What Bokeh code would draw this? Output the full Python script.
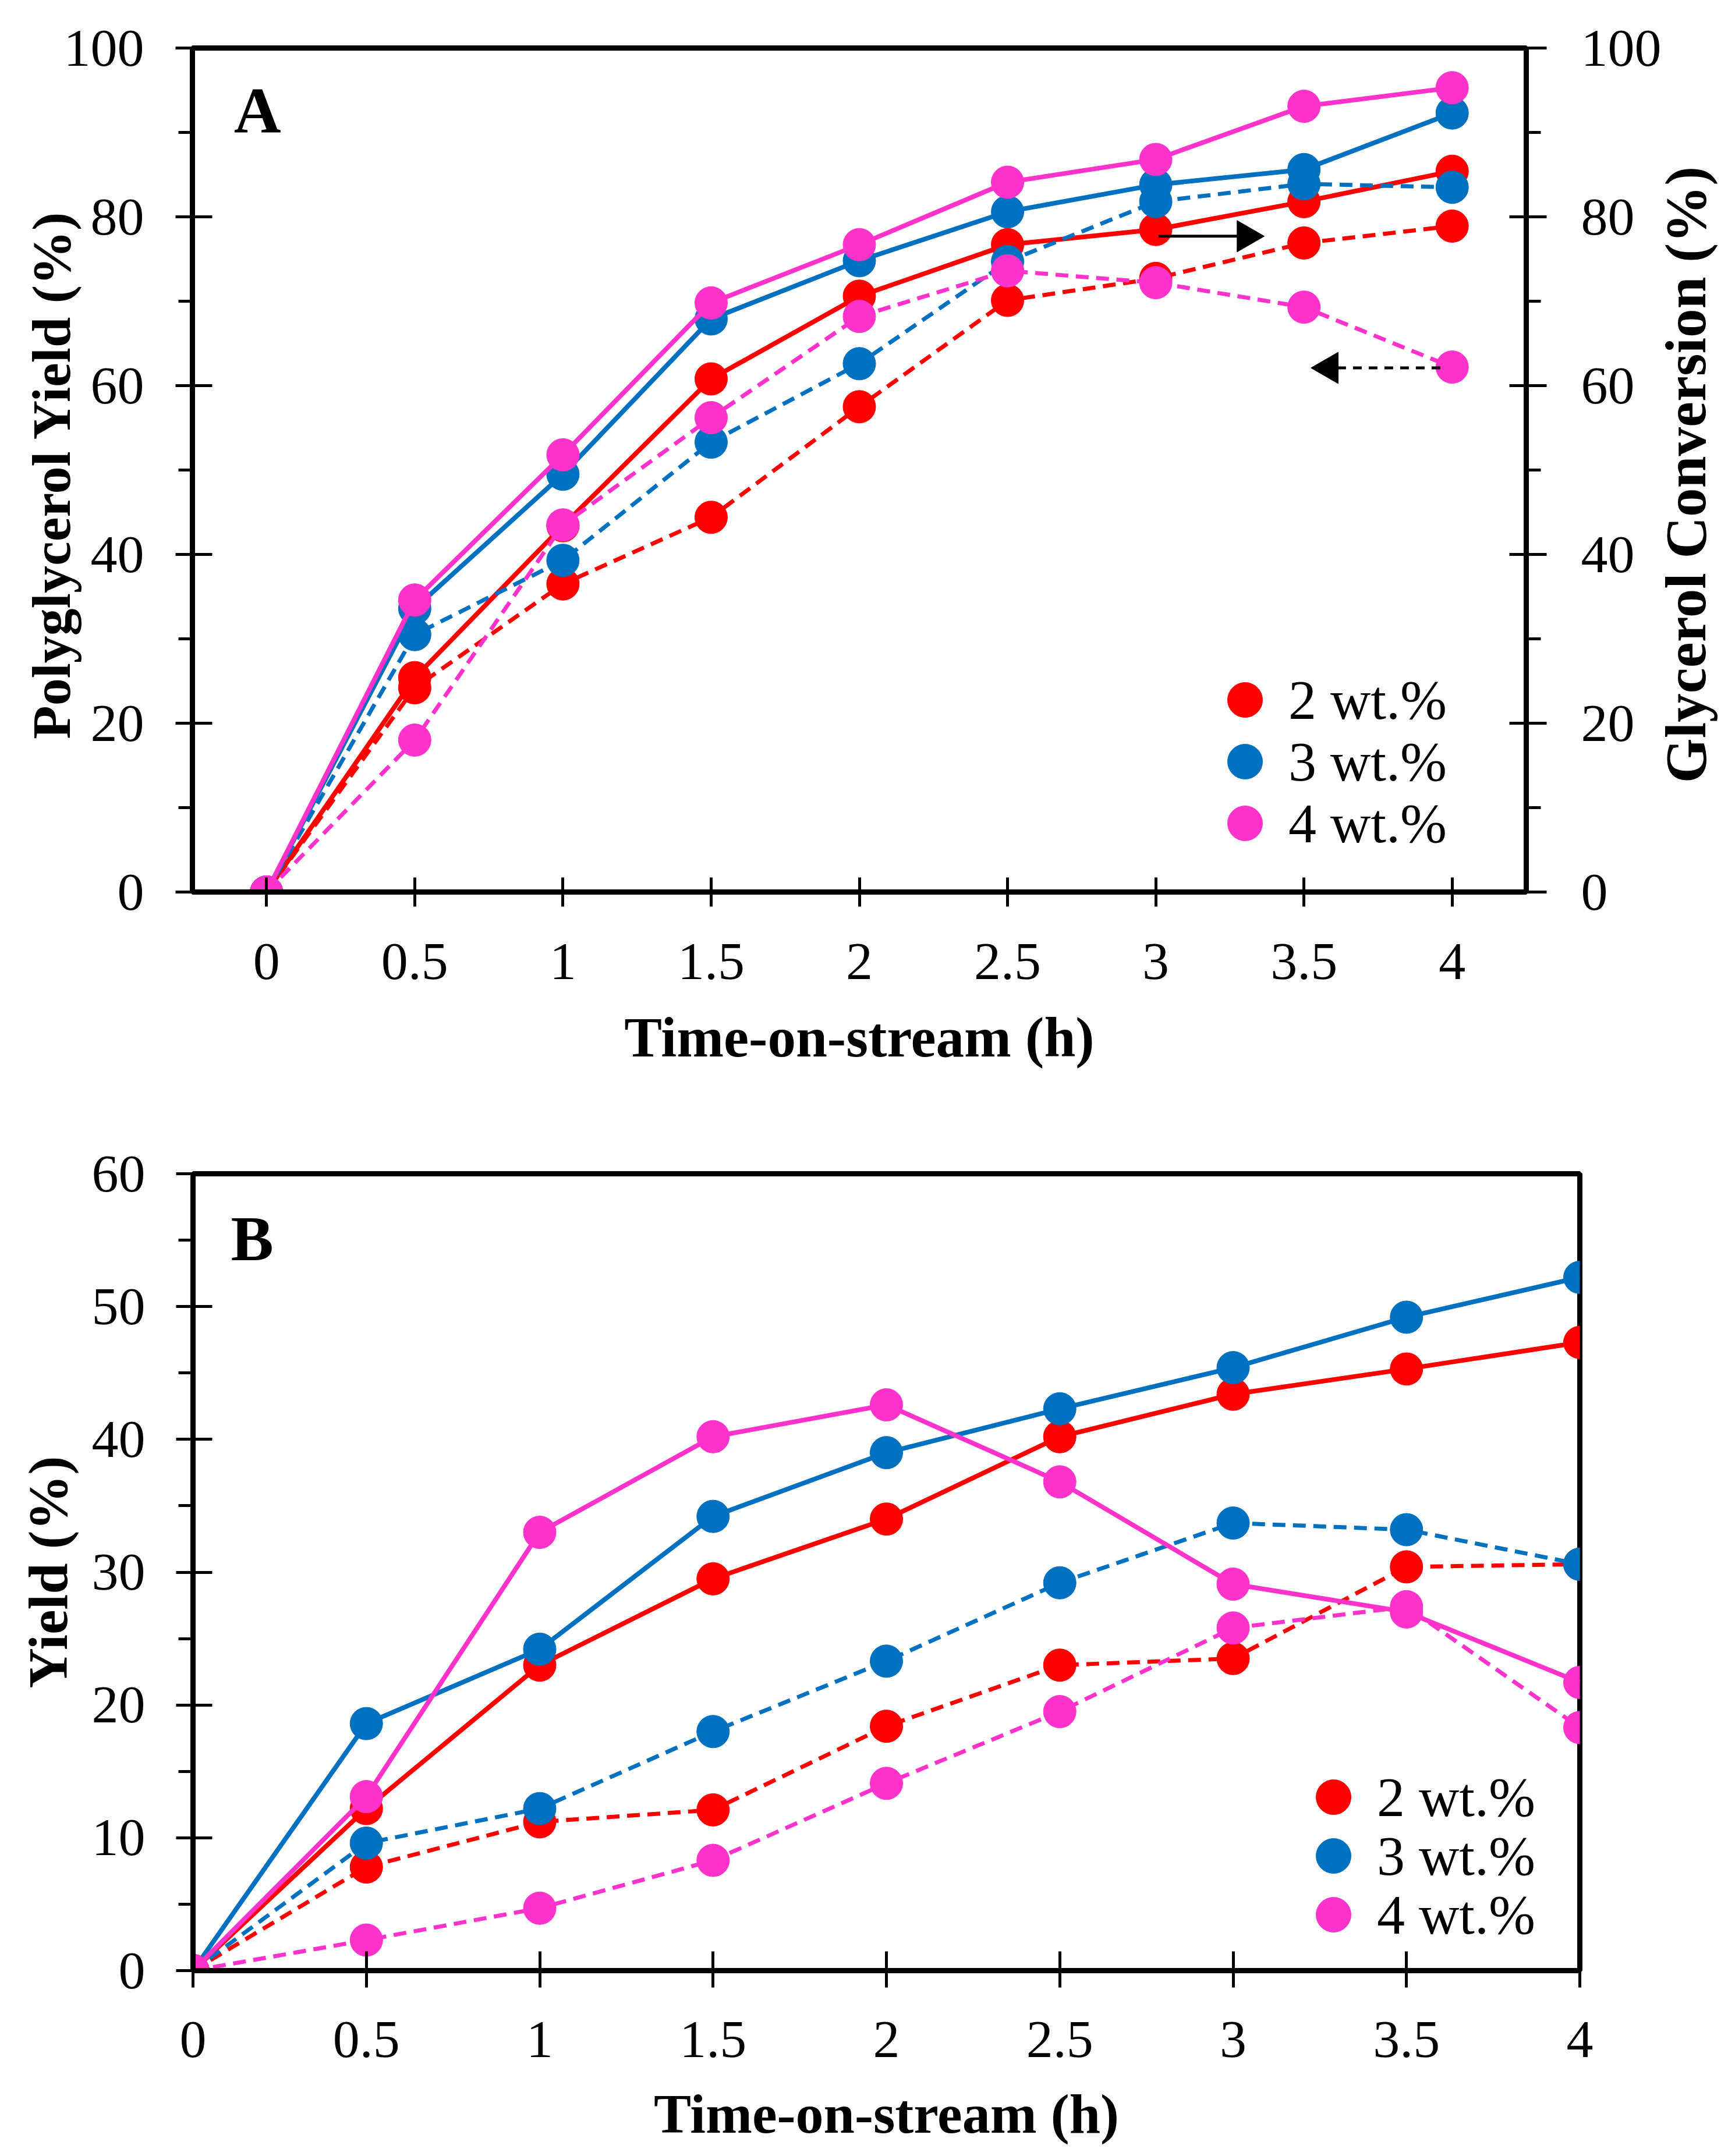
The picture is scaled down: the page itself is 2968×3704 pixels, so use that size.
import math
from bokeh.plotting import figure
from bokeh.models import (LinearAxis, Range1d, FixedTicker, Legend, LegendItem)
from bokeh.core.properties import value
from bokeh.embed import file_html
from bokeh.resources import INLINE

FONT = "Liberation Serif"
RED, BLUE, PINK = "#FF0000", "#0070C0", "#FF33CC"

# ---------------- data ----------------
time_h = [0, 0.5, 1, 1.5, 2, 2.5, 3, 3.5, 4]
time_labels = ["0", "0.5", "1", "1.5", "2", "2.5", "3", "3.5", "4"]
series_labels = ["2 wt.%", "3 wt.%", "4 wt.%"]
series_colors = [RED, BLUE, PINK]

# Panel A - glycerol conversion (solid, right axis)
conv_2 = [0, 25.4, 43.4, 60.8, 70.6, 76.7, 78.5, 81.8, 85.4]
conv_3 = [0, 33.6, 49.5, 67.9, 74.8, 80.6, 83.8, 85.6, 92.3]
conv_4 = [0, 34.6, 51.8, 69.8, 76.7, 84.1, 86.8, 93.1, 95.3]
# Panel A - polyglycerol yield (dashed, left axis)
pgy_2 = [0, 24.2, 36.5, 44.4, 57.5, 70.1, 72.7, 76.9, 78.9]
pgy_3 = [0, 30.5, 39.3, 53.3, 62.6, 74.7, 81.8, 83.9, 83.5]
pgy_4 = [0, 18.0, 43.5, 56.2, 68.2, 73.6, 72.2, 69.3, 62.2]

# Panel B - yields (solid and dashed series)
b_solid_2 = [0, 12.2, 23.0, 29.5, 34.0, 40.2, 43.4, 45.3, 47.3]
b_solid_3 = [0, 18.6, 24.2, 34.2, 39.0, 42.3, 45.4, 49.2, 52.2]
b_solid_4 = [0, 13.1, 33.0, 40.2, 42.6, 36.8, 29.1, 27.0, 21.7]
b_dash_2 = [0, 7.8, 11.2, 12.1, 18.4, 23.0, 23.5, 30.4, 30.6]
b_dash_3 = [0, 9.6, 12.2, 18.0, 23.3, 29.2, 33.7, 33.2, 30.6]
b_dash_4 = [0, 2.3, 4.7, 8.3, 14.1, 19.5, 25.8, 27.4, 18.3]

# arrows in panel A (point to the axis each curve family belongs to)
arrow_y = [77.7, 62.1]
arrow_tail_x = [3.01, 3.96]
arrow_tip_x = [3.35, 3.54]

ya_ticks = [0, 20, 40, 60, 80, 100]
ya_minor = [10, 30, 50, 70, 90]
yb_ticks = [0, 10, 20, 30, 40, 50, 60]
yb_minor = [5, 15, 25, 35, 45, 55]

LW_SOLID = 8
LW_DASH = 7
DASH = "22 13"
MSIZE = 56
x_overrides = dict(zip(time_h, time_labels))


def style_common(p):
    p.background_fill_color = "white"
    p.border_fill_color = "white"
    p.outline_line_color = "black"
    p.outline_line_width = 9
    p.xgrid.visible = False
    p.ygrid.visible = False


def style_axis(ax, tick_in, tick_out, minor_in, minor_out, standoff):
    ax.axis_line_color = "black"
    ax.axis_line_width = 9
    ax.major_tick_line_color = "black"
    ax.major_tick_line_width = 5
    ax.minor_tick_line_color = "black"
    ax.minor_tick_line_width = 5
    ax.major_tick_in = tick_in
    ax.major_tick_out = tick_out
    ax.minor_tick_in = minor_in
    ax.minor_tick_out = minor_out
    ax.major_label_text_font = FONT
    ax.major_label_text_font_size = "92px"
    ax.major_label_text_color = "black"
    ax.major_label_standoff = standoff
    ax.axis_label_text_font = FONT
    ax.axis_label_text_font_style = "bold"
    ax.axis_label_text_color = "black"


def add_legend(p, renderers, x0, ys):
    for lab, r, y in zip(series_labels, renderers, ys):
        leg = Legend(items=[LegendItem(label=lab, renderers=[r])],
                     location=(x0, y), glyph_width=150, glyph_height=150, spacing=0,
                     label_standoff=0, padding=0, margin=0, border_line_color=None,
                     background_fill_alpha=0, label_text_font=FONT,
                     label_text_font_size="96px", label_text_color="black")
        p.add_layout(leg)


def title_overlay(text, size, left_px, top_px, width, height, mb_left, mb_top, mb_bottom):
    """Transparent figure whose only visible element is a left-axis title."""
    q = figure(width=width, height=height, x_range=Range1d(0, 1), y_range=Range1d(0, 1),
               x_axis_location=None, y_axis_location="left",
               output_backend="svg", toolbar_location=None,
               min_border_left=mb_left, min_border_right=5,
               min_border_top=mb_top, min_border_bottom=mb_bottom)
    q.background_fill_color = None
    q.border_fill_color = None
    q.outline_line_color = None
    q.xgrid.visible = False
    q.ygrid.visible = False
    ax = q.yaxis[0]
    ax.ticker = FixedTicker(ticks=[0.5], minor_ticks=[])
    ax.major_label_overrides = {0.5: ""}
    ax.axis_line_color = None
    ax.major_tick_line_color = None
    ax.minor_tick_line_color = None
    ax.major_tick_in = 0
    ax.major_tick_out = 0
    ax.minor_tick_in = 0
    ax.minor_tick_out = 0
    ax.major_label_standoff = 0
    ax.major_label_text_font = FONT
    ax.major_label_text_font_size = "10px"
    ax.axis_label = text
    ax.axis_label_text_font = FONT
    ax.axis_label_text_font_style = "bold"
    ax.axis_label_text_font_size = size
    ax.axis_label_text_color = "black"
    ax.axis_label_standoff = 0
    q.styles = {"position": "absolute", "left": f"{left_px}px", "top": f"{top_px}px"}
    return q


# ================= Panel A =================
pA = figure(width=2950, height=1892, x_range=Range1d(-0.25, 4.25), y_range=Range1d(0, 100),
            output_backend="svg", toolbar_location=None,
            min_border_left=330, min_border_right=329, min_border_top=82, min_border_bottom=360)
style_common(pA)
pA.extra_y_ranges = {"conv": Range1d(0, 100)}
right_ax = LinearAxis(y_range_name="conv")
pA.add_layout(right_ax, "right")

xa = pA.xaxis[0]
style_axis(xa, 25, 25, 0, 0, 64)
xa.ticker = FixedTicker(ticks=time_h, minor_ticks=[])
xa.major_label_overrides = x_overrides
xa.axis_label = "Time-on-stream (h)"
xa.axis_label_text_font_size = "97px"
xa.axis_label_standoff = 44

ya = pA.yaxis[0]
style_axis(ya, 34, 29, 0, 24, 54)
ya.ticker = FixedTicker(ticks=ya_ticks, minor_ticks=ya_minor)

style_axis(right_ax, 29, 35, 0, 25, 59)
right_ax.ticker = FixedTicker(ticks=ya_ticks, minor_ticks=ya_minor)

legend_renderers_A = []
for pgy, conv, col in zip([pgy_2, pgy_3, pgy_4], [conv_2, conv_3, conv_4], series_colors):
    pA.line(time_h, pgy, line_color=col, line_width=LW_DASH, line_dash=DASH)
    pA.scatter(time_h, pgy, size=MSIZE, fill_color=col, line_color=col)
    pA.line(time_h, conv, line_color=col, line_width=LW_SOLID, y_range_name="conv")
    r = pA.scatter(time_h, conv, size=MSIZE, fill_color=col, line_color=col, y_range_name="conv")
    legend_renderers_A.append(r)

add_legend(pA, legend_renderers_A, 1733, [255, 149, 43])

# arrows: shaft + triangular head
HEAD_OFF = 0.045
pA.segment(x0=[arrow_tail_x[0]], y0=[arrow_y[0]], x1=[arrow_tip_x[0] - HEAD_OFF], y1=[arrow_y[0]],
           line_color="black", line_width=5)
pA.segment(x0=[arrow_tail_x[1]], y0=[arrow_y[1]], x1=[arrow_tip_x[1] + HEAD_OFF], y1=[arrow_y[1]],
           line_color="black", line_width=5, line_dash="15 12")
pA.scatter(x=[arrow_tip_x[0] - HEAD_OFF, arrow_tip_x[1] + HEAD_OFF], y=arrow_y,
           marker="triangle", angle=[-math.pi / 2, math.pi / 2], size=54,
           fill_color="black", line_color="black")

pA.text(x=[-0.11], y=[88.3], text=["A"], text_font=value(FONT), text_font_style="bold",
        text_font_size="112px", text_color="black", text_align="left",
        text_baseline="bottom")

# ================= Panel B =================
pB = figure(width=2950, height=1796, x_range=Range1d(0, 4), y_range=Range1d(0, 60),
            output_backend="svg", toolbar_location=None,
            min_border_left=331, min_border_right=237, min_border_top=124, min_border_bottom=303)
style_common(pB)

xb = pB.xaxis[0]
style_axis(xb, 33, 29, 0, 0, 59)
xb.ticker = FixedTicker(ticks=time_h, minor_ticks=[])
xb.major_label_overrides = x_overrides
xb.axis_label = "Time-on-stream (h)"
xb.axis_label_text_font_size = "96px"
xb.axis_label_standoff = 41

yb = pB.yaxis[0]
style_axis(yb, 33, 29, 0, 25, 53)
yb.ticker = FixedTicker(ticks=yb_ticks, minor_ticks=yb_minor)
yb.axis_label = "Yield (%)"
yb.axis_label_text_font_size = "96px"
yb.axis_label_standoff = 19

legend_renderers_B = []
for sol, das, col in zip([b_solid_2, b_solid_3, b_solid_4], [b_dash_2, b_dash_3, b_dash_4], series_colors):
    pB.line(time_h, das, line_color=col, line_width=LW_DASH, line_dash=DASH)
    pB.scatter(time_h, das, size=MSIZE, fill_color=col, line_color=col)
    pB.line(time_h, sol, line_color=col, line_width=LW_SOLID)
    r = pB.scatter(time_h, sol, size=MSIZE, fill_color=col, line_color=col)
    legend_renderers_B.append(r)

add_legend(pB, legend_renderers_B, 1884, [223, 122, 21])

pB.text(x=[0.109], y=[52.45], text=["B"], text_font=value(FONT), text_font_style="bold",
        text_font_size="110px", text_color="black", text_align="left",
        text_baseline="bottom")

# ============ axis titles of panel A (transparent overlays, rendered last) ============
# note: a font size of exactly "100px" with bold is mis-parsed as a font weight by the
# SVG backend, so 99px is used for the right-hand title
left_title = title_overlay("Polyglycerol Yield (%)", "94px", 32, 8, 130, 1892, 100, 82, 360)
right_title = title_overlay("Glycerol Conversion (%)", "99px", 2837, 8, 125, 1892, 100, 82, 360)

with open("out.html", "w") as f:
    f.write(file_html([pA, pB, left_title, right_title], INLINE))
